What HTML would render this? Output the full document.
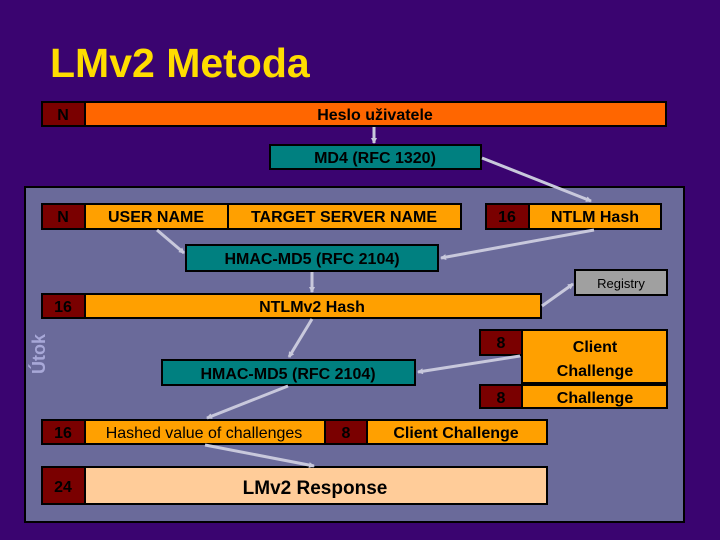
<!DOCTYPE html>
<html><head><meta charset="utf-8"><style>
html,body{margin:0;padding:0;background:#3a0470;}
svg{display:block;font-family:"Liberation Sans",Arial,sans-serif;}
</style></head><body>
<svg width="720" height="540" viewBox="0 0 720 540" xmlns="http://www.w3.org/2000/svg">
<defs><marker id="a" markerWidth="6" markerHeight="6" refX="5" refY="3" orient="auto" markerUnits="userSpaceOnUse" viewBox="0 0 6 6"><path d="M0,0 L6,3 L0,6 z" fill="#c8c8dc"/></marker></defs>
<rect width="720" height="540" fill="#3a0470"/>
<text x="50" y="77" font-size="41" font-weight="bold" fill="#ffdd00">LMv2 Metoda</text>
<rect x="25" y="187" width="659" height="335" fill="#6a6a9a" stroke="#000" stroke-width="2"/>
<g stroke="#000" stroke-width="2">
<rect x="42" y="102" width="43" height="24" fill="#7a0000"/>
<rect x="85" y="102" width="581" height="24" fill="#ff6600"/>
<rect x="270" y="145" width="211" height="24" fill="#008080"/>
<rect x="42" y="204" width="43" height="25" fill="#7a0000"/>
<rect x="85" y="204" width="143" height="25" fill="#ffa000"/>
<rect x="228" y="204" width="233" height="25" fill="#ffa000"/>
<rect x="486" y="204" width="43" height="25" fill="#7a0000"/>
<rect x="529" y="204" width="132" height="25" fill="#ffa000"/>
<rect x="186" y="245" width="252" height="26" fill="#008080"/>
<rect x="575" y="270" width="92" height="25" fill="#a0a0a0"/>
<rect x="42" y="294" width="43" height="24" fill="#7a0000"/>
<rect x="85" y="294" width="456" height="24" fill="#ffa000"/>
<rect x="480" y="330" width="42" height="25" fill="#7a0000"/>
<rect x="522" y="330" width="145" height="53" fill="#ffa000"/>
<rect x="480" y="385" width="42" height="23" fill="#7a0000"/>
<rect x="522" y="385" width="145" height="23" fill="#ffa000"/>
<rect x="162" y="360" width="253" height="25" fill="#008080"/>
<rect x="42" y="420" width="43" height="24" fill="#7a0000"/>
<rect x="85" y="420" width="240" height="24" fill="#ffa000"/>
<rect x="325" y="420" width="42" height="24" fill="#7a0000"/>
<rect x="367" y="420" width="180" height="24" fill="#ffa000"/>
<rect x="42" y="467" width="43" height="37" fill="#7a0000"/>
<rect x="85" y="467" width="462" height="37" fill="#ffcc99"/>
</g>
<g stroke="#c8c8dc" stroke-width="3" marker-end="url(#a)" fill="none">
<line x1="374" y1="127" x2="374" y2="143"/>
<line x1="482" y1="158" x2="591" y2="201"/>
<line x1="157" y1="230" x2="184" y2="253"/>
<line x1="594" y1="230" x2="441" y2="258"/>
<line x1="312" y1="272" x2="312" y2="292"/>
<line x1="542" y1="306" x2="573" y2="284"/>
<line x1="312" y1="319" x2="289" y2="357"/>
<line x1="520" y1="356" x2="418" y2="372"/>
<line x1="288" y1="386" x2="207" y2="418"/>
<line x1="205" y1="445" x2="314" y2="466"/>
</g>
<g font-size="16" fill="#000" text-anchor="middle" font-weight="bold">
<text x="63" y="120">N</text>
<text x="375" y="120">Heslo uživatele</text>
<text x="375" y="163">MD4 (RFC 1320)</text>
<text x="63" y="222">N</text>
<text x="156" y="222">USER NAME</text>
<text x="344" y="222">TARGET SERVER NAME</text>
<text x="507" y="222">16</text>
<text x="595" y="222">NTLM Hash</text>
<text x="312" y="264">HMAC-MD5 (RFC 2104)</text>
<text x="621" y="288" font-size="13" font-weight="normal">Registry</text>
<text x="63" y="312">16</text>
<text x="312" y="312">NTLMv2 Hash</text>
<text x="501" y="348">8</text>
<text x="595" y="352">Client</text>
<text x="595" y="376">Challenge</text>
<text x="501" y="403">8</text>
<text x="595" y="403">Challenge</text>
<text x="288" y="379">HMAC-MD5 (RFC 2104)</text>
<text x="63" y="438">16</text>
<text x="204" y="438" font-weight="normal">Hashed value of challenges</text>
<text x="346" y="438">8</text>
<text x="456" y="438">Client Challenge</text>
<text x="63" y="492">24</text>
<text x="315" y="494" font-size="19">LMv2 Response</text>
</g>
<text transform="translate(45,354) rotate(-90)" text-anchor="middle" font-size="18" font-weight="bold" fill="#a8a8d8">Útok</text>
</svg>
</body></html>
